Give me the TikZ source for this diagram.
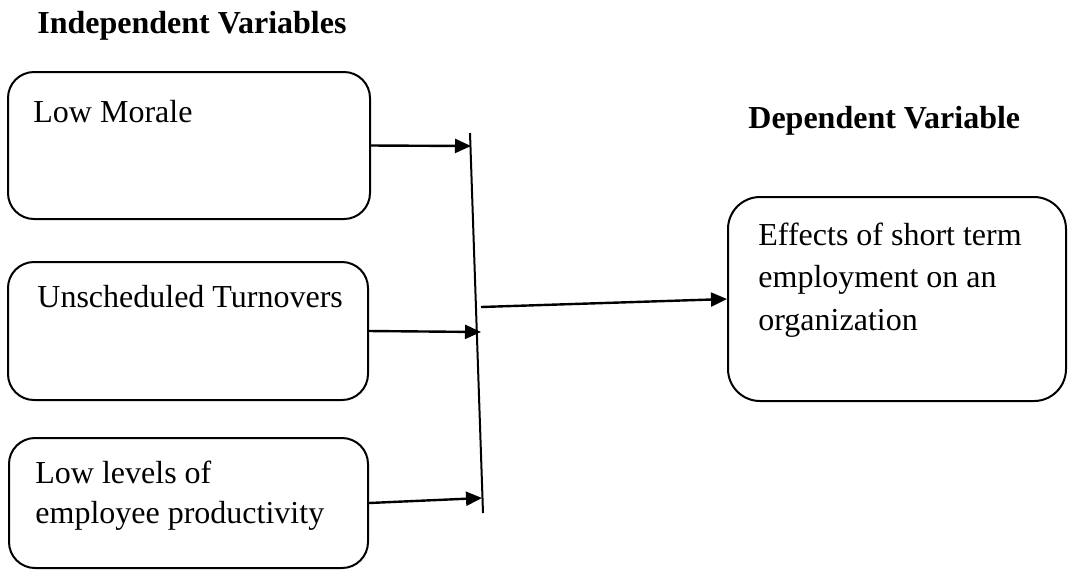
\documentclass[tikz,border=0pt]{standalone}
\usepackage{fontspec}
\setmainfont{Liberation Serif}
\usepackage{tikz}
\usetikzlibrary{arrows.meta}
\usepackage{xcolor}

\begin{document}
\begin{tikzpicture}[x=0.5pt,y=-0.5pt,
	every node/.style	= {font=\fontsize{16}{20}\selectfont},
	varbox/.style		= {draw, line width=1pt, rounded corners=13pt, inner sep=0pt},
	boxtext/.style		= {anchor=base west, align=left, inner sep=0pt},
	heading/.style		= {anchor=base west, inner sep=0pt, font=\fontsize{16}{20}\selectfont\bfseries},
	link/.style			= {line width=1.2pt, -{Triangle[length=8pt,width=7pt]}}]
			%\draw[help lines] (0,0) grid (1071,570);
			\useasboundingbox (0,0) rectangle (1071,570);
			
			\node[heading] (indep) at (37,33) {Independent Variables};
			\node[heading] (dep) at (748,128) {Dependent Variable};
			
			\node[varbox, minimum width=181pt, minimum height=73.5pt] (morale) at (189,145.5) {};
			\node[varbox, minimum width=180pt, minimum height=69pt] (turnover) at (188,331) {};
			\node[varbox, minimum width=179.5pt, minimum height=65pt] (product) at (188.5,503) {};
			\node[varbox, minimum width=169pt, minimum height=102pt, rounded corners=16pt] (effects) at (897,299) {};
			
			% base of a multi-line text is its last line
			\node[boxtext] (tmorale) at (33,122) {Low Morale};
			\node[boxtext] (tturnover) at (37,307) {Unscheduled Turnovers};
			\node[boxtext] (tproduct) at (35,523) {Low levels of\\employee productivity};
			\node[boxtext, font=\fontsize{16}{21.25}\selectfont] (teffects) at (758,330) {Effects of short term\\employment on an\\organization};
			
			% joining bar
			\coordinate (bartop) at (470,133);
			\coordinate (barbot) at (483,513);
			\draw[line width=1pt] (bartop) -- (barbot);
			
			\coordinate (in1) at (471,146);
			\coordinate (in2) at (481,332);
			\coordinate (in3) at (482,498);
			\coordinate (out) at (481,307);
			
			\draw[link] (morale.east) -- (in1);
			\draw[link] (turnover.east) -- (in2);
			\draw[link] (product.east) -- (in3);
			\draw[link] (out) -- (effects.west);
			
\end{tikzpicture}
\end{document}
